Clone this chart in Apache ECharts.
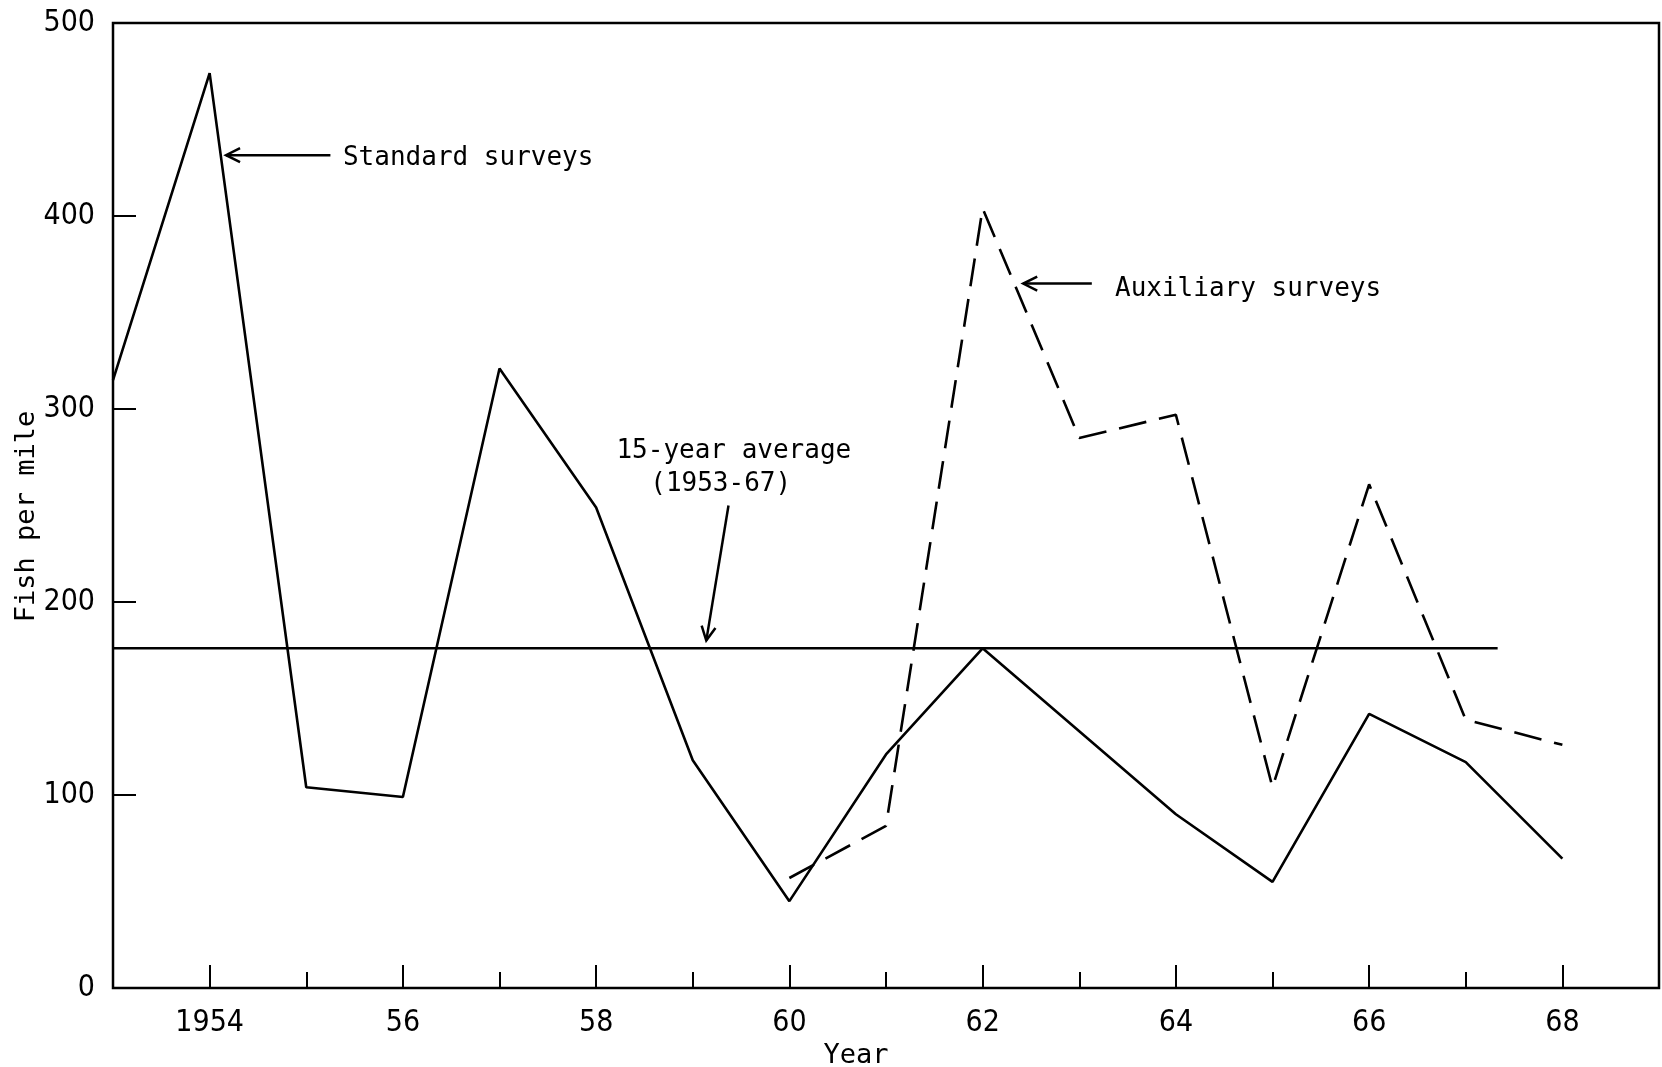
<!DOCTYPE html>
<html>
<head>
<meta charset="utf-8">
<script src="https://cdn.jsdelivr.net/npm/echarts@6/dist/echarts.min.js"></script>
<style>
  html, body { margin: 0; padding: 0; background: #fff; }
  #chart { width: 1662px; height: 1067px; }
</style>
</head>
<body>
<div id="chart"></div>
<script>
// ---- data ----
const years = [1953, 1954, 1955, 1956, 1957, 1958, 1959, 1960, 1961, 1962, 1963, 1964, 1965, 1966, 1967, 1968];
const standardSurveys = [315, 474, 104, 99, 321, 249, 118, 45, 121, 176, 133, 90, 55, 142, 117, 67];
const auxYears = [1960, 1961, 1962, 1963, 1964, 1965, 1966, 1967, 1968];
const auxiliarySurveys = [57, 84, 404, 285, 297, 104, 261, 139, 126];
const averageValue = 176;
const averageSpan = [1953, 1967.33];
const xMajorTicks = [1954, 1956, 1958, 1960, 1962, 1964, 1966, 1968];
const xMinorTicks = [1955, 1957, 1959, 1961, 1963, 1965, 1967];
const xTickLabels = ['1954', '56', '58', '60', '62', '64', '66', '68'];
const yTicks = [0, 100, 200, 300, 400, 500];

// annotation anchors in data coordinates
const annotations = [
  { text: 'Standard surveys', at: [1955.38, 430], arrowFrom: [1955.25, 431.5], arrowTo: [1954.17, 431.5] },
  { text: 'Auxiliary surveys', at: [1963.37, 362], arrowFrom: [1963.13, 365], arrowTo: [1962.42, 365] },
  { text: '15-year average', at: [1958.21, 278], arrowFrom: null, arrowTo: null },
  { text: '(1953-67)', at: [1958.56, 261], arrowFrom: [1959.37, 250], arrowTo: [1959.14, 180] }
];

const monoFont = '"DejaVu Sans Mono", "Liberation Mono", monospace';
const numFont = '"Liberation Sans Narrow", "DejaVu Sans Condensed", "Liberation Sans", sans-serif';

const chart = echarts.init(document.getElementById('chart'), null, { renderer: 'canvas' });

const option = {
  backgroundColor: '#ffffff',
  animation: false,
  grid: {
    left: 113, right: 3, top: 23, bottom: 79,
    outerBoundsMode: 'none', containLabel: false,
    show: true, borderColor: '#000', borderWidth: 2.5, backgroundColor: 'transparent'
  },
  xAxis: [
    {
      type: 'value', min: 1953, max: 1969, interval: 1,
      position: 'bottom',
      name: 'Year', nameLocation: 'middle', nameGap: 48,
      nameTextStyle: { fontFamily: monoFont, fontSize: 27, color: '#000', padding: [0, 60, 0, 0] },
      axisLine: { show: false },
      splitLine: { show: false },
      axisTick: { show: true, inside: true, length: 23, customValues: xMajorTicks, lineStyle: { color: '#000', width: 2 } },
      axisLabel: {
        show: true, customValues: xMajorTicks, margin: 20,
        fontFamily: numFont, fontSize: 30, color: '#000',
        formatter: function (v) { const i = xMajorTicks.indexOf(v); return i >= 0 ? xTickLabels[i] : ''; }
      }
    },
    {
      type: 'value', min: 1953, max: 1969, interval: 1,
      position: 'bottom',
      axisLine: { show: false },
      splitLine: { show: false },
      axisLabel: { show: false },
      axisTick: { show: true, inside: true, length: 16, customValues: xMinorTicks, lineStyle: { color: '#000', width: 2 } }
    }
  ],
  yAxis: {
    type: 'value', min: 0, max: 500, interval: 100,
    name: 'Fish per mile', nameLocation: 'middle', nameGap: 73, nameMoveOverlap: false,
    nameTextStyle: { fontFamily: monoFont, fontSize: 27, color: '#000', padding: [0, 22, 0, 0] },
    axisLine: { show: false },
    splitLine: { show: false },
    axisTick: { show: true, inside: true, length: 23, lineStyle: { color: '#000', width: 2 } },
    axisLabel: {
      margin: 18, fontFamily: numFont, fontSize: 30, color: '#000',
      formatter: function (v) { return yTicks.indexOf(v) >= 0 ? String(v) : ''; }
    }
  },
  series: [
    {
      name: 'Standard surveys', type: 'line', xAxisIndex: 0,
      data: years.map((y, i) => [y, standardSurveys[i]]),
      showSymbol: false, symbol: 'none',
      lineStyle: { color: '#000', width: 2.6 }
    },
    {
      name: 'Auxiliary surveys', type: 'line', xAxisIndex: 0,
      data: auxYears.map((y, i) => [y, auxiliarySurveys[i]]),
      showSymbol: false, symbol: 'none',
      lineStyle: { color: '#000', width: 2.6, type: [28, 13] }
    },
    {
      name: '15-year average', type: 'line', xAxisIndex: 0,
      data: averageSpan.map(x => [x, averageValue]),
      showSymbol: false, symbol: 'none',
      lineStyle: { color: '#000', width: 2.5 }
    }
  ]
};

chart.setOption(option);

// build annotations (text + open arrows) positioned through the chart's scales
function px(p) { return chart.convertToPixel({ gridIndex: 0 }, p); }
const graphics = [];
annotations.forEach(a => {
  const t = px(a.at);
  graphics.push({
    type: 'text', x: t[0], y: t[1],
    style: { text: a.text, fill: '#000', font: '26px ' + monoFont, textAlign: 'left', textVerticalAlign: 'middle' },
    z: 10
  });
  if (a.arrowFrom && a.arrowTo) {
    const f = px(a.arrowFrom), e = px(a.arrowTo);
    graphics.push({
      type: 'line', shape: { x1: f[0], y1: f[1], x2: e[0], y2: e[1] },
      style: { stroke: '#000', lineWidth: 2.5 }, z: 10
    });
    const dx = e[0] - f[0], dy = e[1] - f[1];
    const len = Math.sqrt(dx * dx + dy * dy);
    const ux = dx / len, uy = dy / len;
    const hl = 14, hw = 7;
    const p1 = [e[0] - ux * hl - uy * hw, e[1] - uy * hl + ux * hw];
    const p2 = [e[0] - ux * hl + uy * hw, e[1] - uy * hl - ux * hw];
    graphics.push({
      type: 'polyline', shape: { points: [p1, e, p2] },
      style: { stroke: '#000', lineWidth: 2.5, fill: null }, z: 10
    });
  }
});
chart.setOption({ graphic: graphics });
</script>
</body>
</html>
